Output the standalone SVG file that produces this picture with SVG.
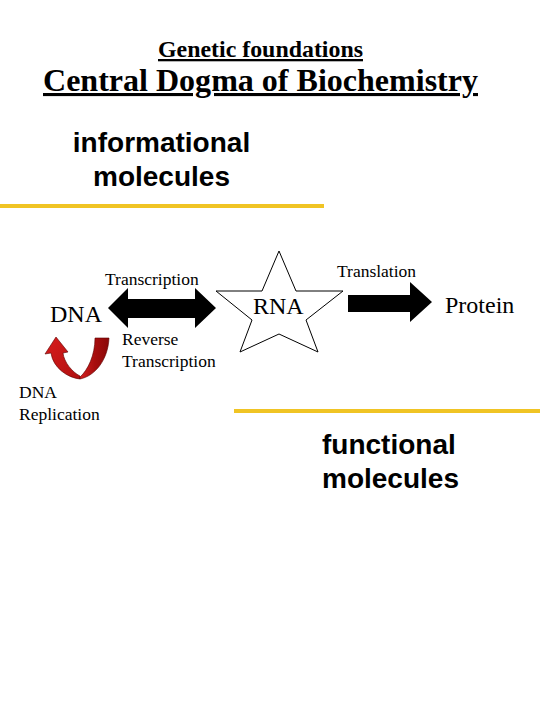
<svg xmlns="http://www.w3.org/2000/svg" width="540" height="720" viewBox="0 0 540 720">
<style>
.serif{font-family:"Liberation Serif","Times New Roman",serif;fill:#000}
.sans{font-family:"Liberation Sans",Arial,sans-serif;font-weight:bold;fill:#000}
.lbl{font-size:17.5px}
.node{font-size:24px}
.gold{stroke:#F0C424;stroke-width:4}
.rib{stroke:#5a0000;stroke-width:0.6}
</style>
<defs>
<linearGradient id="redR" x1="0" y1="0" x2="1" y2="0">
<stop offset="0" stop-color="#d42020"/>
<stop offset="0.5" stop-color="#a80e0e"/>
<stop offset="1" stop-color="#8a0808"/>
</linearGradient>
<linearGradient id="redL" x1="0" y1="0" x2="1" y2="1">
<stop offset="0" stop-color="#d81c1c"/>
<stop offset="1" stop-color="#b01010"/>
</linearGradient>
</defs>
<rect width="540" height="720" fill="#fff"/>
<g id="titles">
<text class="serif" x="260.5" y="57" font-size="23" font-weight="bold" text-anchor="middle" text-decoration="underline" textLength="205" lengthAdjust="spacingAndGlyphs">Genetic foundations</text>
<text class="serif" x="260.5" y="91" font-size="31" font-weight="bold" text-anchor="middle" text-decoration="underline" textLength="435" lengthAdjust="spacingAndGlyphs">Central Dogma of Biochemistry</text>
</g>
<g id="informational">
<text class="sans" x="161.5" y="152" font-size="28" text-anchor="middle">informational</text>
<text class="sans" x="161.5" y="186" font-size="28" text-anchor="middle">molecules</text>
<line class="gold" x1="0" y1="206" x2="324" y2="206"/>
</g>
<g id="functional">
<line class="gold" x1="234" y1="411" x2="540" y2="411"/>
<text class="sans" x="322" y="454" font-size="28">functional</text>
<text class="sans" x="322" y="488" font-size="28">molecules</text>
</g>
<g id="connectors">
<polygon points="108,308 128,288 128,299 195,299 195,288 216,308 195,328 195,318 128,318 128,328" fill="#000"/>
<polygon points="348,295 410,295 410,282 432,302 410,322 410,312 348,312" fill="#000"/>
<path class="rib" d="M51,353 C53,368 68,378 80,379 L80,376 C72,372 64,362 63,353 L68,352 L56,337 L45,354 Z" fill="url(#redL)"/>
<path class="rib" d="M109,338 C108,360 95,376 80,379 L80,377 C88,370 95,355 95,338 Z" fill="url(#redR)"/>
<text class="serif lbl" x="105" y="285">Transcription</text>
<text class="serif lbl" x="122" y="345">Reverse</text>
<text class="serif lbl" x="122" y="367">Transcription</text>
<text class="serif lbl" x="337" y="277">Translation</text>
<text class="serif lbl" x="19" y="398">DNA</text>
<text class="serif lbl" x="19" y="420">Replication</text>
</g>
<g id="dna">
<text class="serif node" x="50" y="322">DNA</text>
</g>
<g id="rna">
<polygon points="279,251 296,291 343,291 306,320 318,352 279,334 240,352 252,320 216,291 262,291" fill="#fff" stroke="#000" stroke-width="1"/>
<text class="serif node" x="253" y="314">RNA</text>
</g>
<g id="protein">
<text class="serif node" x="445" y="313">Protein</text>
</g>
</svg>
